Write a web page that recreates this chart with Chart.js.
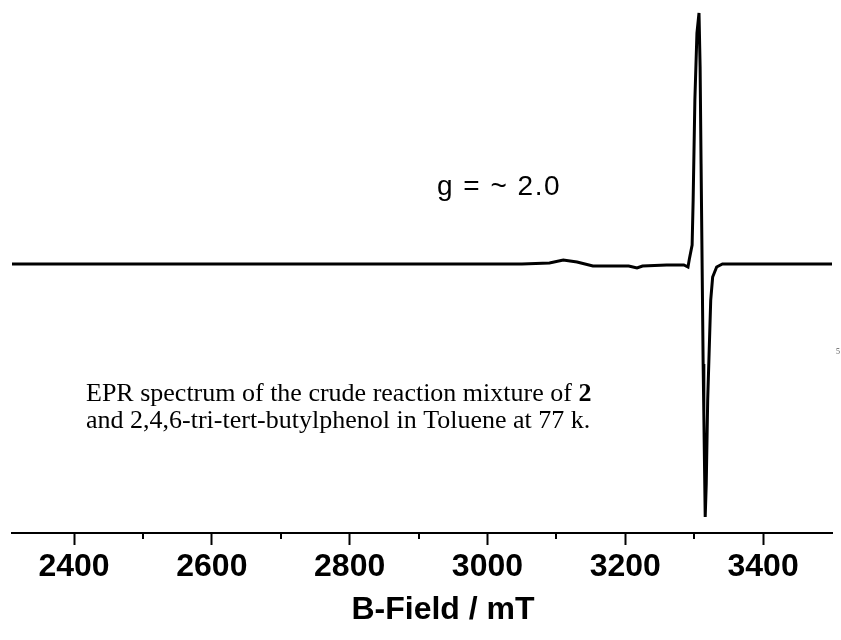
<!DOCTYPE html>
<html>
<head>
<meta charset="utf-8">
<script src="https://cdn.jsdelivr.net/npm/chart.js@4/dist/chart.umd.min.js"></script>
<style>
  html, body { margin: 0; padding: 0; background: #fff; }
  canvas { display: block; }
</style>
</head>
<body>
<canvas id="c" width="841" height="640"></canvas>
<script>
// EPR spectrum, crude reaction mixture (B-field in mT, signal in arbitrary units)
const FIELD = [
  2310, 2500, 2700, 2900, 3050, 3090, 3110, 3130, 3153, 3180, 3205, 3217, 3225,
  3260, 3285, 3291, 3293, 3297, 3298.5, 3301, 3304, 3307, 3308.6, 3310, 3311.5,
  3313, 3314, 3316, 3317.5, 3319.6, 3324, 3326.8, 3332.6, 3341, 3420, 3500,
];
const SIGNAL = [
  0, 0, 0, 0, 0, 1, 4, 2, -2, -2, -2, -4, -2,
  -1, -1, -3, 5, 19, 64, 164, 231, 251, 197, 100, 0,
  -100, -150, -253, -220, -136, -36, -13, -3, 0, 0, 0,
];
const MAJOR_TICKS = [2400, 2600, 2800, 3000, 3200, 3400];
const MINOR_TICKS = [2500, 2700, 2900, 3100, 3300];
const X_TITLE = "B-Field / mT";
const G_LABEL = "g = ~ 2.0";
const CAPTION_1 = "EPR spectrum of the crude reaction mixture of ";
const CAPTION_1_BOLD = "2";
const CAPTION_2 = "and 2,4,6-tri-tert-butylphenol in Toluene at 77 k.";

const SANS = 'Arial, "Liberation Sans", sans-serif';
const SERIF = '"Times New Roman", "Liberation Serif", serif';
const INK = "#000";

// Short minor tick marks, x-axis title and the free text on the plot.
const annotations = {
  id: "annotations",
  afterDraw(chart) {
    const { ctx, chartArea } = chart;
    const x = chart.scales.x;
    ctx.save();
    ctx.strokeStyle = INK;
    ctx.lineWidth = 2;
    MINOR_TICKS.forEach((v) => {
      const px = Math.round(x.getPixelForValue(v));
      ctx.beginPath();
      ctx.moveTo(px, chartArea.bottom);
      ctx.lineTo(px, chartArea.bottom + 6);
      ctx.stroke();
    });

    ctx.fillStyle = INK;
    ctx.textAlign = "center";
    ctx.textBaseline = "middle";
    ctx.font = `bold 32px ${SANS}`;
    ctx.fillText(X_TITLE, 443, 610);

    ctx.textAlign = "left";
    ctx.textBaseline = "alphabetic";
    ctx.font = `28px ${SANS}`;
    ctx.letterSpacing = "1.5px";
    ctx.fillText(G_LABEL, 437, 195);
    ctx.letterSpacing = "0px";

    ctx.font = `26px ${SERIF}`;
    ctx.fillText(CAPTION_1, 86, 401);
    const w = ctx.measureText(CAPTION_1).width;
    ctx.font = `bold 26px ${SERIF}`;
    ctx.fillText(CAPTION_1_BOLD, 86 + w, 401);
    ctx.font = `26px ${SERIF}`;
    ctx.fillText(CAPTION_2, 86, 428);

    ctx.fillStyle = "#555";
    ctx.font = `8px ${SERIF}`;
    ctx.fillText("5", 836, 354);
    ctx.restore();
  },
};

new Chart(document.getElementById("c"), {
  type: "line",
  data: {
    datasets: [
      {
        data: FIELD.map((f, i) => ({ x: f, y: SIGNAL[i] })),
        borderColor: INK,
        borderWidth: 3,
        pointRadius: 0,
        tension: 0,
        fill: false,
      },
    ],
  },
  options: {
    responsive: false,
    animation: false,
    layout: { padding: { left: 12, right: 9, top: 0, bottom: 0 } },
    plugins: { legend: { display: false }, tooltip: { enabled: false } },
    scales: {
      x: {
        type: "linear",
        min: 2310,
        max: 3500,
        afterBuildTicks: (scale) => {
          scale.ticks = MAJOR_TICKS.map((v) => ({ value: v }));
        },
        afterFit: (scale) => {
          scale.height = 107;
        },
        ticks: {
          font: { family: SANS, size: 32, weight: "bold" },
          color: INK,
          padding: 3,
          maxRotation: 0,
          autoSkip: false,
          callback: (v) => String(v),
        },
        grid: {
          drawOnChartArea: false,
          drawTicks: true,
          tickLength: 12,
          tickColor: INK,
          tickWidth: 2,
        },
        border: { display: true, color: INK, width: 2 },
      },
      y: {
        display: false,
        min: -269,
        max: 264,
      },
    },
  },
  plugins: [annotations],
});
</script>
</body>
</html>
